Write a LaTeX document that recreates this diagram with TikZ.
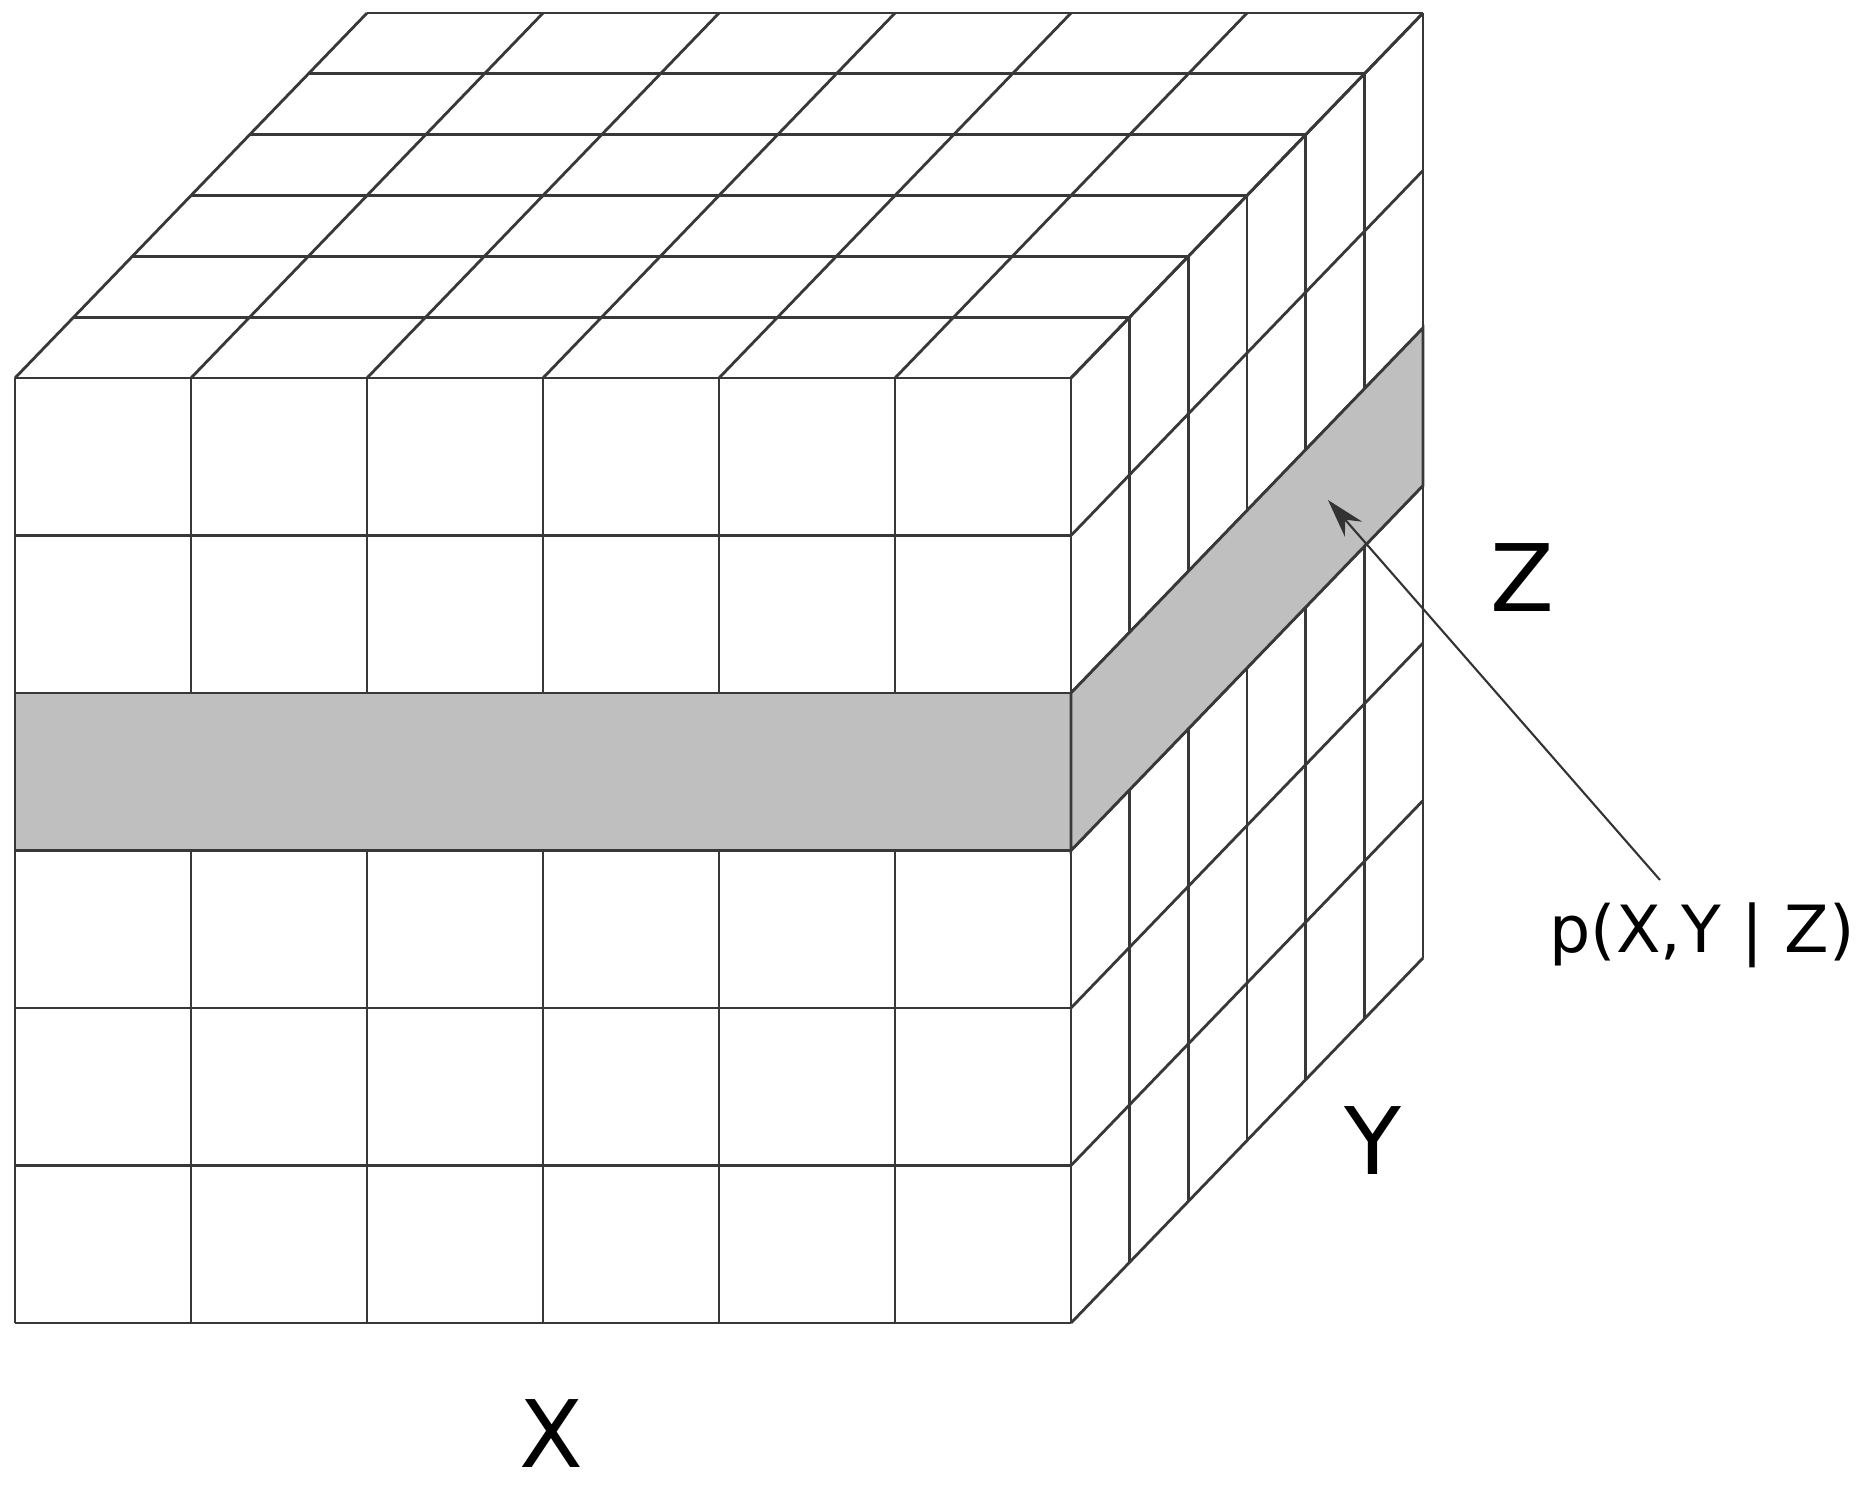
\documentclass[tikz,border=0pt]{standalone}
\usepackage{fontspec}
\setmainfont{DejaVu Sans}
\usetikzlibrary{arrows.meta}

\begin{document}
\begin{tikzpicture}[
    x=0.01cm, y=-0.01cm,
    grid/.style={draw=black!78, line width=0.8pt},
    band/.style={fill=black!25, draw=black!78, line width=0.8pt},
    axis/.style={font=\fontsize{26.5}{30}\selectfont, inner sep=0pt},
    >={Stealth[length=11pt, width=6.5pt]}
]
\def\W{176}      % cell width (front)
\def\H{157.5}    % cell height (front)
\def\dx{58.67}   % one step into depth, x
\def\dy{-60.83}  % one step into depth, y
\def\xo{15}      % front face, left
\def\yo{378}     % front face, top

\useasboundingbox (0,0) rectangle (1871,1490);

% front face
\foreach \i in {0,...,6}{
  \draw[grid] (\xo+\i*\W, \yo) -- (\xo+\i*\W, \yo+6*\H);
  \draw[grid] (\xo, \yo+\i*\H) -- (\xo+6*\W, \yo+\i*\H);
}

% top face
\foreach \i in {0,...,6}{
  \draw[grid] (\xo+\i*\W, \yo) -- ++(6*\dx, 6*\dy);
  \draw[grid] (\xo+\i*\dx, \yo+\i*\dy) -- ++(6*\W, 0);
}

% right face
\foreach \i in {0,...,6}{
  \draw[grid] (\xo+6*\W, \yo+\i*\H) -- ++(6*\dx, 6*\dy);
  \draw[grid] (\xo+6*\W+\i*\dx, \yo+\i*\dy) -- ++(0, 6*\H);
}

% shaded slice (one value of Z)
\draw[band] (\xo, \yo+2*\H) rectangle (\xo+6*\W, \yo+3*\H);
\draw[band] (\xo+6*\W, \yo+2*\H) -- ++(6*\dx, 6*\dy) -- ++(0, \H)
    -- ++(-6*\dx, -6*\dy) -- cycle;

% axis labels
\node[axis] (lblX) at (551, 1434) {X};
\node[axis] (lblY) at (1373, 1141) {Y};
\node[axis] (lblZ) at (1522, 578) {Z};
\node[font=\fontsize{18.5}{22}\selectfont, inner sep=0pt, anchor=base] (lblP)
    at (1702, 952) {p(X,Y | Z)};

% pointer to the slice
\coordinate (tail) at (1660, 880);
\coordinate (tip) at (1328, 500);
\draw[->, black!80, line width=0.6pt] (tail) -- (tip);

\end{tikzpicture}
\end{document}
